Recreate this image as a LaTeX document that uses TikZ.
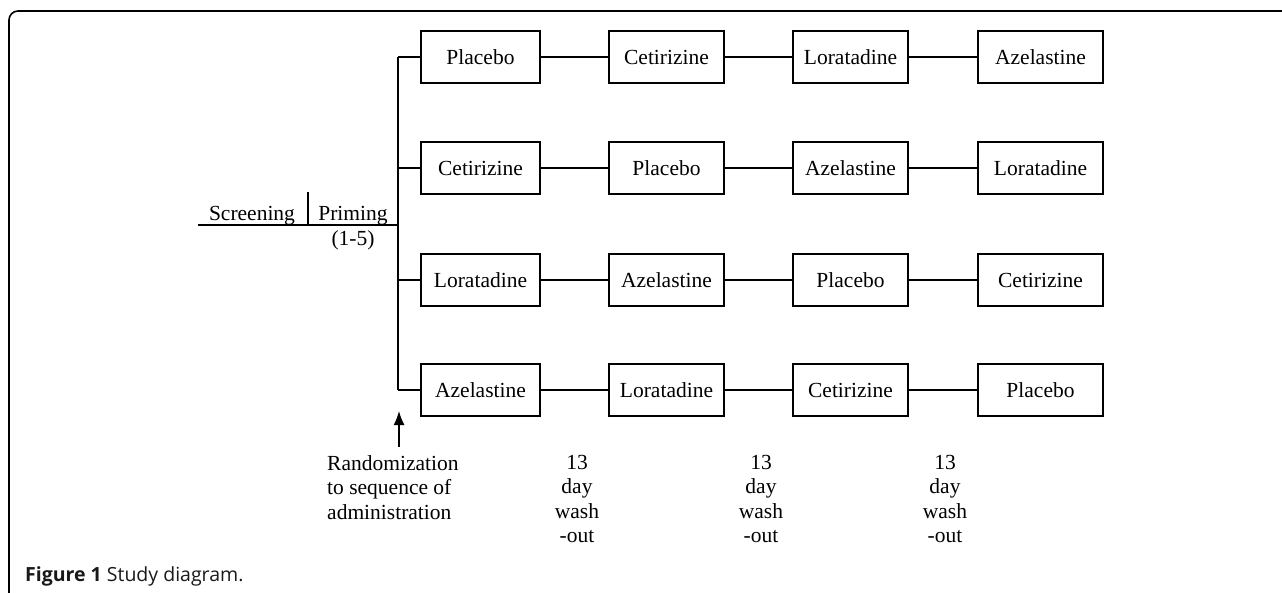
\documentclass[tikz,border=0pt]{standalone}
\usepackage{fontspec}
\setmainfont{Liberation Serif}
\newfontfamily\capfont{Open Sans}
\usetikzlibrary{arrows.meta}
\begin{document}
\begin{tikzpicture}[x=1pt,y=-1pt,
  drug/.style={draw,line width=1.8pt,minimum height=52pt,inner sep=0pt,font=\fontsize{21.5}{24}\selectfont},
  link/.style={line width=1.5pt},
  lbl/.style={font=\fontsize{21.5}{24}\selectfont,inner sep=0pt},
  wash/.style={font=\fontsize{21.5}{24.5}\selectfont,align=center,inner sep=0pt,anchor=north}]
\useasboundingbox (0,0) rectangle (1282,592);
% frame
\draw[line width=1.6pt,rounded corners=9pt] (9,600) -- (9,11) -- (1290,11);
% row y: 57,168,280,390 ; col centers
\foreach \r/\y/\a/\b/\c/\d in {1/57/Placebo/Cetirizine/Loratadine/Azelastine,
                               2/168/Cetirizine/Placebo/Azelastine/Loratadine,
                               3/280/Loratadine/Azelastine/Placebo/Cetirizine,
                               4/390/Azelastine/Loratadine/Cetirizine/Placebo}{
  \node[drug,minimum width=119pt] (r\r c1) at (480.5,\y) {\a};
  \node[drug,minimum width=115pt] (r\r c2) at (666.5,\y) {\b};
  \node[drug,minimum width=115pt] (r\r c3) at (850.5,\y) {\c};
  \node[drug,minimum width=125pt] (r\r c4) at (1040.5,\y) {\d};
  \coordinate (t\r) at (398,\y);
  \draw[link] (t\r) -- (r\r c1);
  \draw[link] (r\r c1) -- (r\r c2);
  \draw[link] (r\r c2) -- (r\r c3);
  \draw[link] (r\r c3) -- (r\r c4);
}
\draw[link] (t1) -- (t4);
% screening / priming
\coordinate (s0) at (198,225);
\coordinate (tm) at (398,225);
\coordinate (dv1) at (308,192);
\coordinate (dv2) at (308,225);
\draw[link] (s0) -- (tm);
\draw[link] (dv1) -- (dv2);
\node[lbl,anchor=base] (scr) at (252,220) {Screening};
\node[lbl,anchor=base] (pri) at (353,220) {Priming};
\node[lbl,anchor=base] (pr15) at (353,245) {(1-5)};
% randomization arrow
\coordinate (ar1) at (399,447);
\coordinate (ar2) at (399,411);
\draw[line width=1.5pt,-{Latex[length=14pt,width=11pt]}] (ar1) -- (ar2);
\node[lbl,align=left,anchor=north west,font=\fontsize{21.5}{24.5}\selectfont] (rand) at (327,455) {Randomization\\to sequence of\\administration};
% washout labels
\node[wash] (w1) at (577,455) {13\\day\\wash\\-out};
\node[wash] (w2) at (761,455) {13\\day\\wash\\-out};
\node[wash] (w3) at (945,455) {13\\day\\wash\\-out};
% caption
\node[anchor=base west,inner sep=0pt,font=\capfont\fontsize{19.5}{22}\selectfont,text=black!90] (cap) at (25,581) {\textbf{Figure 1} Study diagram.};
\end{tikzpicture}
\end{document}
